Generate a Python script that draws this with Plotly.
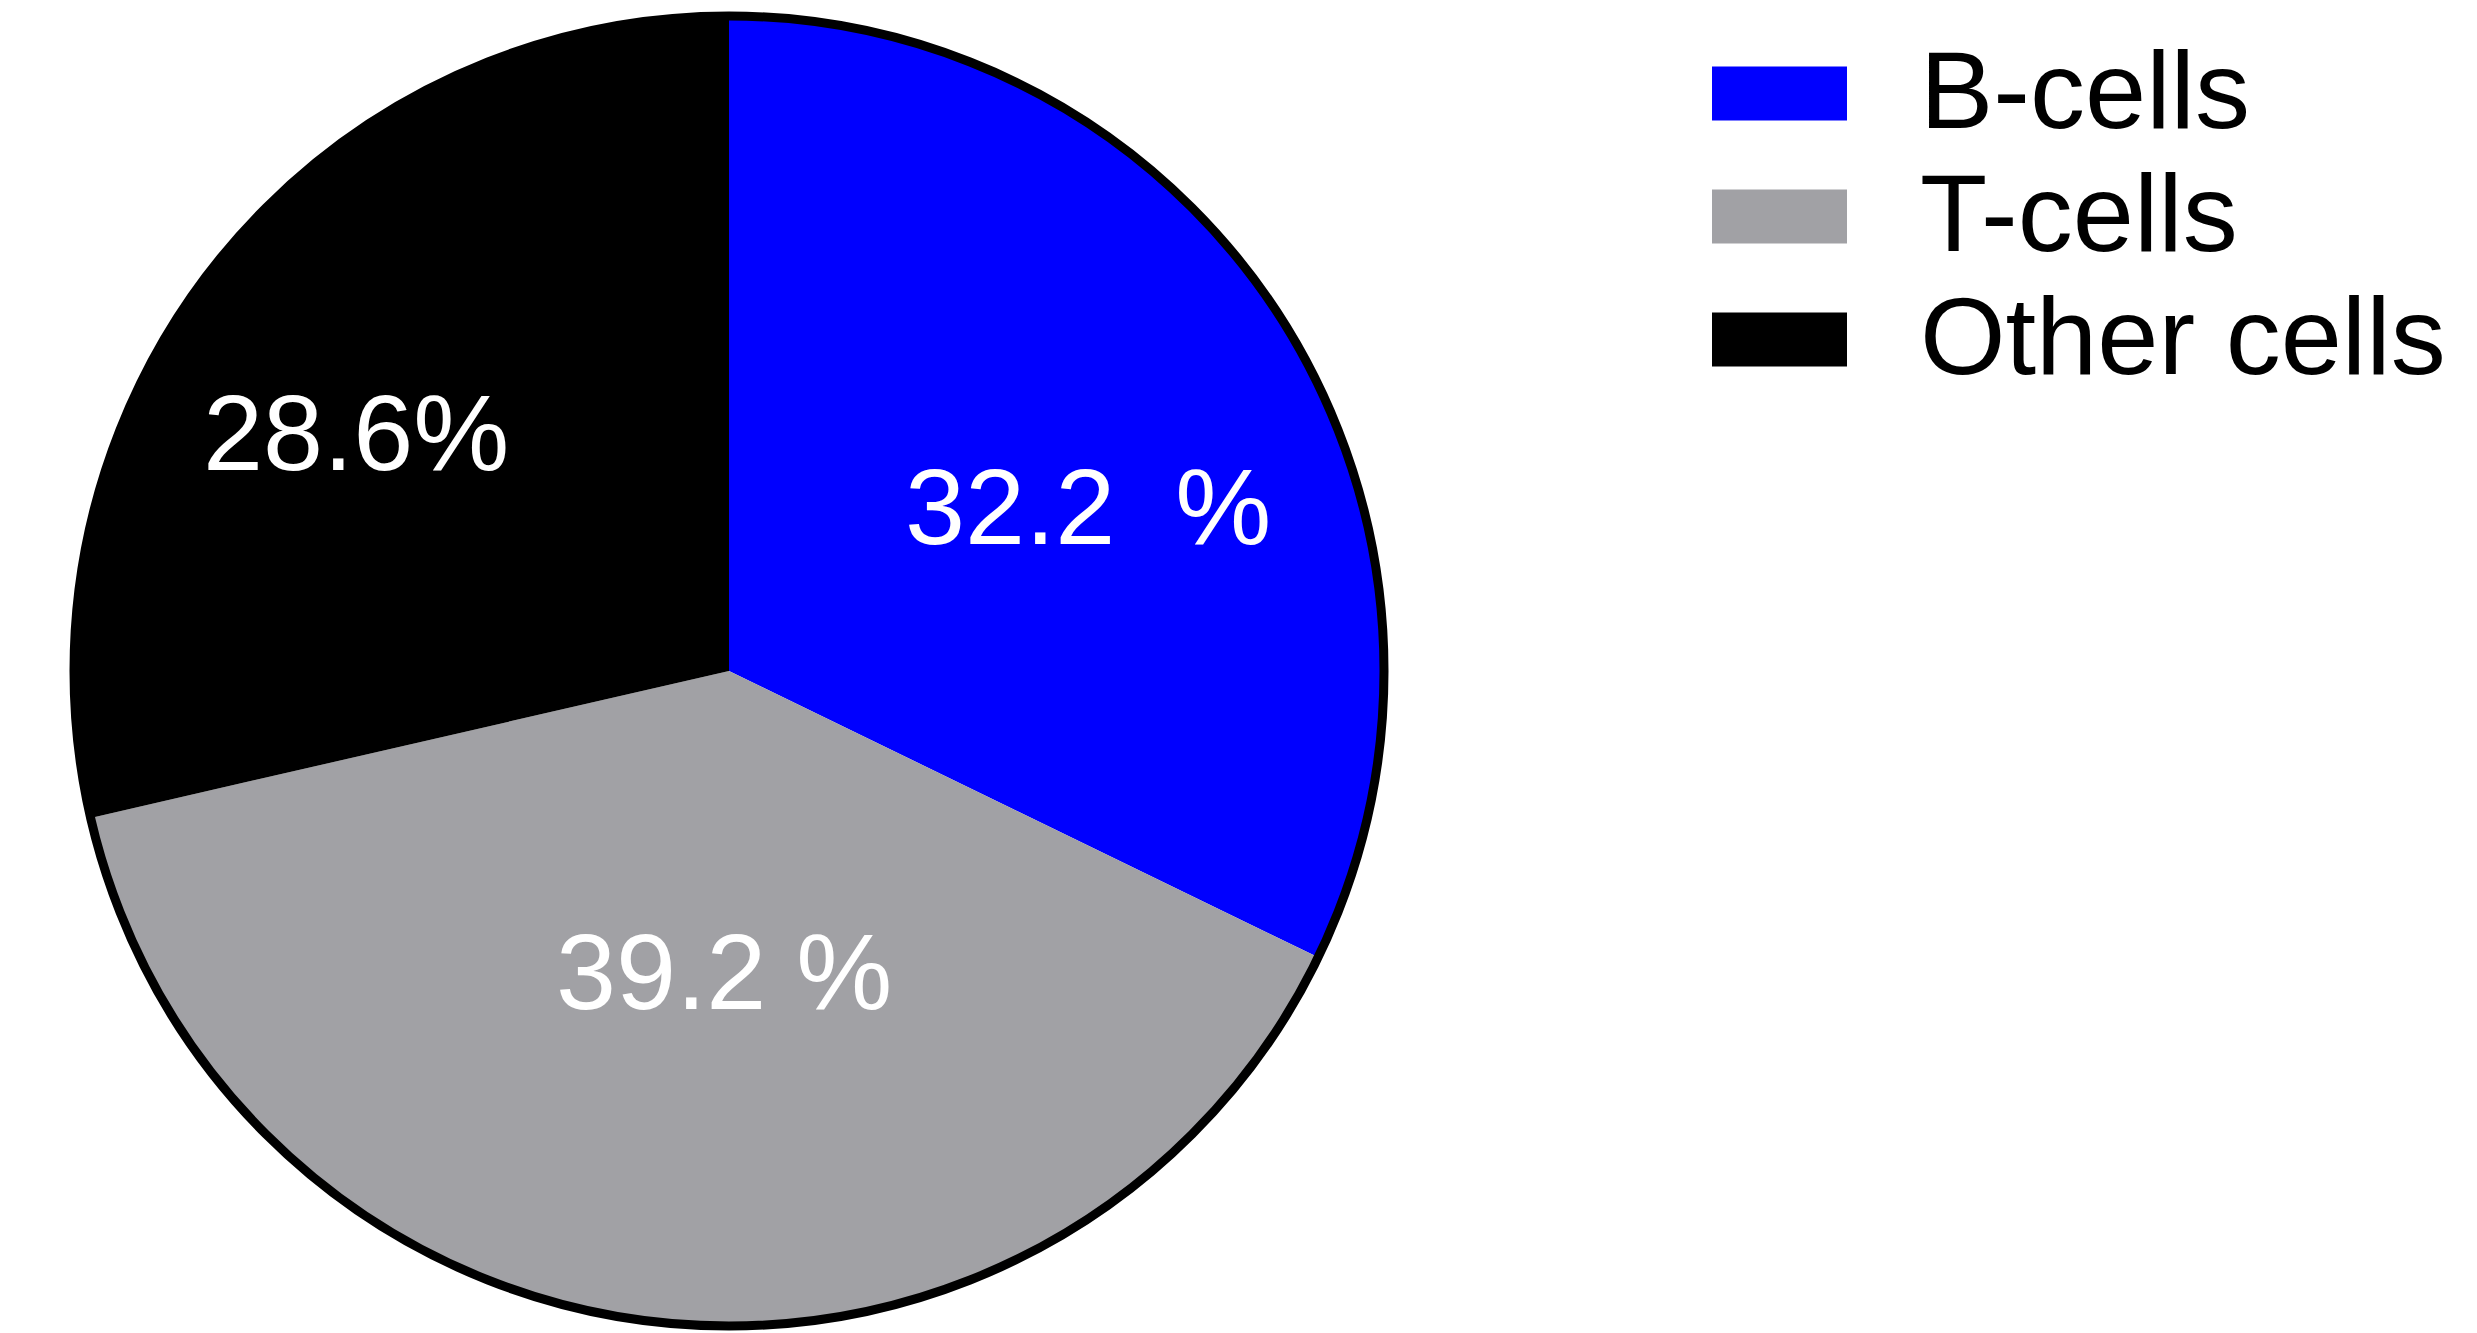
import plotly.graph_objects as go

# ---- data ----
labels = ["B-cells", "T-cells", "Other cells"]
values = [32.2, 39.2, 28.6]
slice_text = ["32.2\u00a0\u00a0%", "39.2 %", "28.6%"]
colors = ["#0000ff", "#a1a1a5", "#000000"]

W, H = 2477, 1333
cx, cy, r = 721, 663, 655  # pie centre / radius in pixels (from top-left)

dom_x = [(cx - r) / W, (cx + r) / W]
dom_y = [(H - cy - r) / H, (H - cy + r) / H]

FONT = "Liberation Sans, Arial, sans-serif"

fig = go.Figure()
fig.add_trace(go.Pie(
    labels=labels, values=values, text=slice_text,
    textinfo="none",
    sort=False, direction="clockwise", rotation=0,
    marker=dict(colors=colors, line=dict(width=0)),
    domain=dict(x=dom_x, y=dom_y), showlegend=False, hoverinfo="label+percent",
))
# outer outline only (no radial borders)
fig.add_trace(go.Pie(
    labels=["outline"], values=[1], textinfo="none", sort=False,
    marker=dict(colors=["rgba(0,0,0,0)"], line=dict(color="black", width=9)),
    domain=dict(x=dom_x, y=dom_y), showlegend=False, hoverinfo="skip",
))

annotations, shapes = [], []
# slice labels (label placement in pixels)
label_pos = [(1080, 499), (716, 963), (348, 425)]
for txt, (px, py) in zip(slice_text, label_pos):
    annotations.append(dict(xref="paper", yref="paper", x=px / W, y=1 - py / H,
                            xanchor="center", yanchor="middle", showarrow=False, text=txt,
                            font=dict(family=FONT, size=108, color="white")))

# custom legend
sw_x0, sw_x1 = 1704, 1839
row0, row_step, sw_h = 85.5, 123, 54
for i, (lab, col) in enumerate(zip(labels, colors)):
    yc = row0 + i * row_step
    shapes.append(dict(type="rect", xref="paper", yref="paper",
                       x0=sw_x0 / W, x1=sw_x1 / W,
                       y0=1 - (yc + sw_h / 2) / H, y1=1 - (yc - sw_h / 2) / H,
                       fillcolor=col, line=dict(width=0)))
    annotations.append(dict(xref="paper", yref="paper", x=1910 / W, y=1 - (yc - 4) / H,
                            xanchor="left", yanchor="middle", showarrow=False, text=lab,
                            font=dict(family=FONT, size=110, color="black")))

fig.update_layout(width=W, height=H, margin=dict(l=0, r=0, t=0, b=0),
                  paper_bgcolor="white", plot_bgcolor="white",
                  shapes=shapes, annotations=annotations, showlegend=False)
fig.write_html("out.html")
